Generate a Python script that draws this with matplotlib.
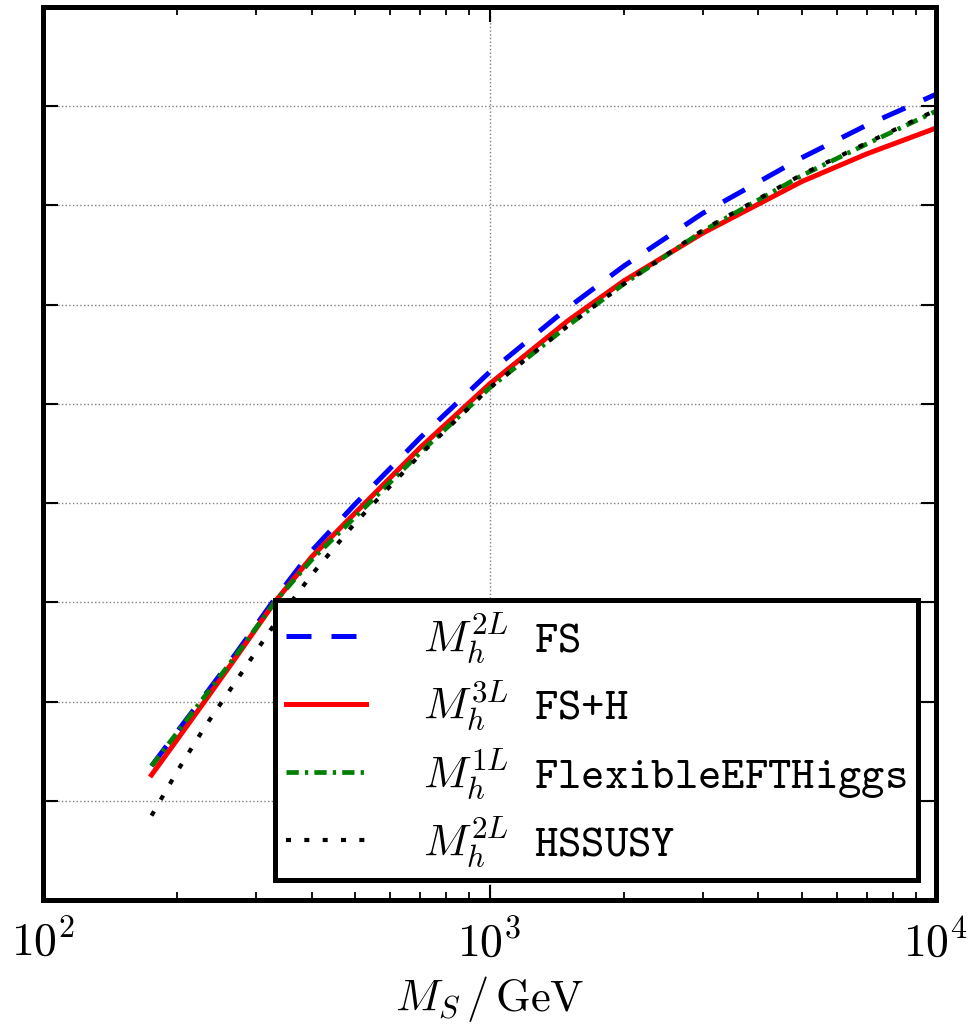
import matplotlib.pyplot as plt
import numpy as np

plt.rcParams['font.family'] = 'serif'
plt.rcParams['font.serif'] = ['cmr10']
plt.rcParams['mathtext.fontset'] = 'cm'
plt.rcParams['axes.formatter.use_mathtext'] = True
plt.rcParams['axes.unicode_minus'] = False

# SUSY scale (GeV) and Higgs mass predictions (GeV)
ms = [175, 200, 230, 270, 330, 400, 500, 700, 1000, 1500, 2000, 3000, 5000, 7000, 10000]
mh_fs_2l = [96.75, 98.50, 100.30, 102.40, 105.15, 107.60, 109.95, 113.30,
            116.60, 119.85, 121.95, 124.60, 127.40, 129.05, 130.60]
mh_fsh_3l = [96.30, 98.10, 100.00, 102.20, 105.00, 107.30, 109.50, 112.80,
             116.00, 119.20, 121.20, 123.60, 126.20, 127.60, 128.90]
mh_feft_1l = [96.75, 98.45, 100.25, 102.30, 105.00, 107.15, 109.30, 112.55,
              115.80, 118.95, 121.05, 123.70, 126.50, 128.10, 129.75]
mh_hssusy_2l = [94.25, 96.50, 98.70, 101.00, 103.90, 106.40, 109.00, 112.45,
                115.80, 118.95, 121.05, 123.75, 126.55, 128.15, 129.80]

labels = [r'$M_h^{2L}$ FS', r'$M_h^{3L}$ FS+H',
          r'$M_h^{1L}$ FlexibleEFTHiggs', r'$M_h^{2L}$ HSSUSY']

fig = plt.figure(figsize=(9.76, 10.29), dpi=100)
ax = fig.add_axes([43/976, 1 - 900/1029, 893/976, 893/1029])

ax.plot(ms, mh_fs_2l, color='blue', lw=3.6, dashes=(5, 4), label=labels[0])
ax.plot(ms, mh_fsh_3l, color='red', lw=3.6, label=labels[1])
ax.plot(ms, mh_feft_1l, color='green', lw=3.4, dashes=(2.6, 1.3, 0.7, 1.3), label=labels[2])
ax.plot(ms, mh_hssusy_2l, color='black', lw=3.0, dashes=(1.2, 3.2), label=labels[3])

ax.set_xscale('log')
ax.set_xlim(100, 10000)
ax.set_ylim(90, 135)
ax.set_yticks(np.arange(95, 135, 5))
ax.set_yticklabels([])

ax.grid(True, which='major', linestyle=':', color='gray', lw=1.0)
for s in ax.spines.values():
    s.set_linewidth(3.6)
ax.tick_params(which='major', direction='in', length=11, width=1.5,
               top=True, right=True, labelsize=33, pad=14)
ax.tick_params(which='minor', direction='in', length=6, width=1.3,
               top=True, right=True)
ax.tick_params(axis='y', which='minor', left=False, right=False)

ax.set_xlabel(r'$M_S\,/\,\mathrm{GeV}$', fontsize=32, labelpad=6)

leg = ax.legend(loc='lower right', bbox_to_anchor=(0.98, 0.0224),
                borderaxespad=0, fancybox=False, framealpha=1,
                edgecolor='black', handlelength=1.8, handletextpad=1.3,
                borderpad=0.25, labelspacing=0.31,
                prop={'family': 'cmtt10', 'size': 32})
leg.get_frame().set_linewidth(3.6)

fig.savefig('out.png', dpi=100)
